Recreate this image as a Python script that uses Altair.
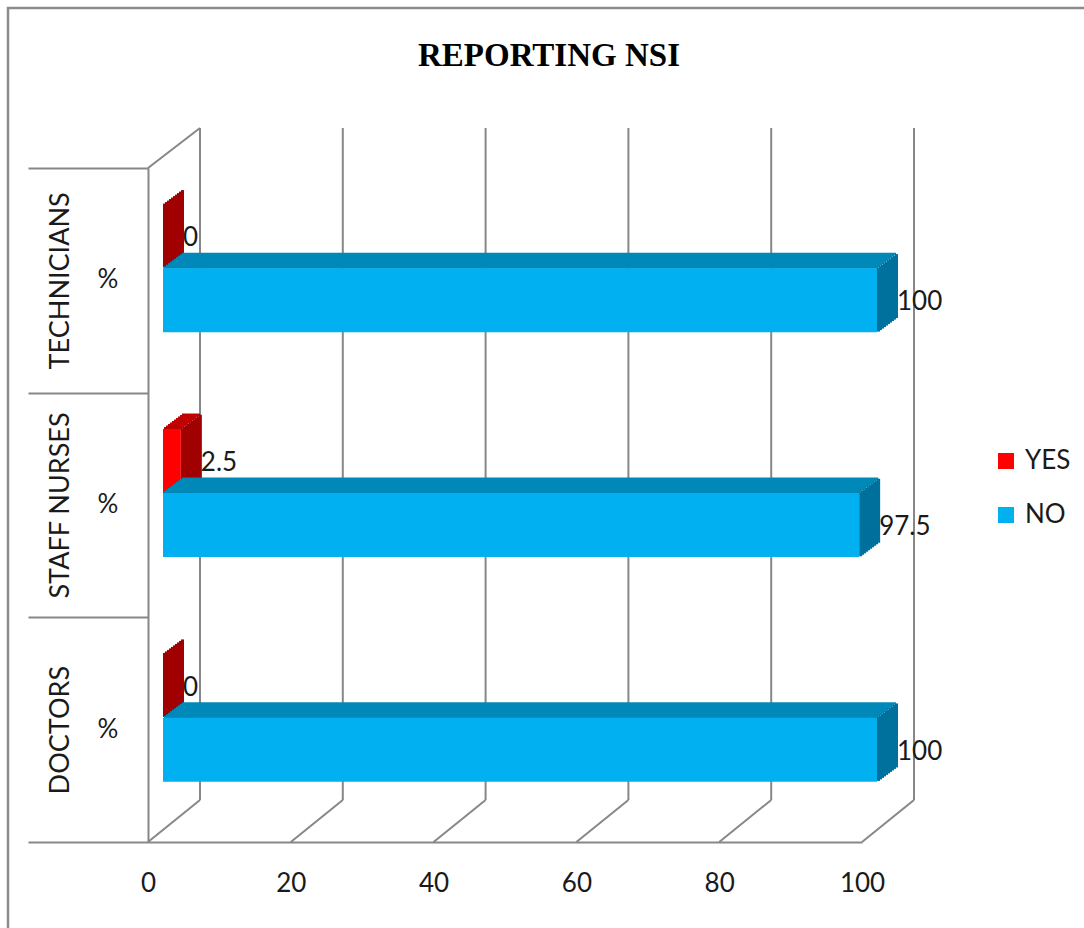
import altair as alt
import pandas as pd

# ---- data ----
categories = ["TECHNICIANS", "STAFF NURSES", "DOCTORS"]
series = ["YES", "NO"]
yes_values = [0, 2.5, 0]
no_values = [100, 97.5, 100]
tick_values = [0, 20, 40, 60, 80, 100]

rows = []
for c, y, n in zip(categories, yes_values, no_values):
    rows.append({"cat": c, "series": "YES", "value": y, "label": f"{y:g}"})
    rows.append({"cat": c, "series": "NO", "value": n, "label": f"{n:g}"})
df = pd.DataFrame(rows)
ticks_df = pd.DataFrame({"tick": tick_values})

W, H = 714, 674
GRAY = "#878787"
FONT = "Lato"
TXT = "#1a1a1a"
FS = 26

XSCALE = alt.Scale(domain=[0, 100], nice=False, zero=True)
XAXIS = alt.Axis(values=tick_values, grid=False, ticks=False, title=None,
                 domainColor=GRAY, domainWidth=2, labelFontSize=FS,
                 labelFont=FONT, labelColor=TXT, labelPadding=28,
                 labelFlush=False)
X = alt.X("value:Q", scale=XSCALE, axis=XAXIS)
XT = alt.X("tick:Q", scale=XSCALE, axis=XAXIS)
Y = alt.Y(
    "cat:N", sort=categories,
    scale=alt.Scale(domain=categories, paddingInner=0, paddingOuter=0),
    axis=alt.Axis(title=None, labelAngle=-90, labelAlign="center",
                  labelBaseline="middle", labelPadding=-32, labelLimit=400,
                  tickBand="extent", tickSize=120, tickColor=GRAY, tickWidth=2,
                  domainColor=GRAY, domainWidth=2, labelFontSize=27,
                  labelFont=FONT, labelColor=TXT),
)

# frame around the whole picture
frame = alt.Chart(alt.Data(values=[{}])).mark_rect(
    fillOpacity=0, stroke="#8c8c8c", strokeWidth=2.5
).encode(x=alt.value(-140), x2=alt.value(1084 - 148 + 20),
         y=alt.value(-160), y2=alt.value(928 - 168 + 20))

# back wall gridlines
grid = alt.Chart(ticks_df).mark_rule(color=GRAY, strokeWidth=2, xOffset=52).encode(
    x=XT, y=alt.value(-40), y2=alt.value(H - 42),
)
# floor diagonals
floor = alt.Chart(ticks_df).mark_rule(color=GRAY, strokeWidth=2, x2Offset=52).encode(
    x=XT, x2="tick:Q", y=alt.value(H), y2=alt.value(H - 42),
)
# left wall top edge
wall_top = alt.Chart(ticks_df).transform_filter(alt.datum.tick == 0).mark_rule(
    color=GRAY, strokeWidth=2, x2Offset=52
).encode(x=XT, x2="tick:Q", y=alt.value(0), y2=alt.value(-40))

color_enc = alt.Color(
    "series:N",
    scale=alt.Scale(domain=series, range=["#FF0000", "#00B0F0"]),
    legend=alt.Legend(title=None, orient="none", legendX=845, legendY=280,
                      symbolType="square", symbolSize=256, symbolStrokeWidth=0,
                      labelFontSize=FS, labelFont=FONT, labelColor=TXT,
                      rowPadding=28, padding=0, labelOffset=6),
)

NSTRIP = 10
DEPTH_X, DEPTH_Y = 20, 15
FRONT_H = 64


def faces(name, yoff, top_color, side_color):
    base = alt.Chart(df).transform_filter(alt.datum.series == name)
    layers = []
    # top face: parallelogram built from thin horizontal strips
    sh = DEPTH_Y / NSTRIP
    for k in range(NSTRIP):
        dx = 15 + DEPTH_X * (k + 0.5) / NSTRIP
        layers.append(base.mark_bar(
            height=sh + 1, yOffset=yoff - FRONT_H / 2 - sh * (k + 0.5),
            xOffset=dx, x2Offset=dx, color=top_color
        ).encode(x=X, x2=alt.X2(datum=0), y=Y))
    # side face: parallelogram built from thin vertical strips
    sw = DEPTH_X / NSTRIP
    for j in range(NSTRIP):
        layers.append(base.mark_bar(
            height=FRONT_H, yOffset=yoff - DEPTH_Y * (j + 0.5) / NSTRIP,
            xOffset=15 + sw * (j + 1) + 1, x2Offset=15 + sw * j, color=side_color
        ).encode(x=X, x2=alt.X2("value:Q"), y=Y))
    front = base.mark_bar(height=FRONT_H, yOffset=yoff, xOffset=15, x2Offset=15).encode(
        x=X, x2=alt.X2(datum=0), y=Y, color=color_enc)
    lab = base.mark_text(align="left", baseline="middle", xOffset=35, yOffset=yoff + 2,
                         fontSize=FS, font=FONT, color=TXT).encode(
        x=X, y=Y, text="label:N")
    return layers + [front, lab]


yes_layers = faces("YES", -44, "#C00000", "#A00000")
no_layers = faces("NO", 20, "#0088B8", "#00709C")

pct = alt.Chart(df).transform_filter(alt.datum.series == "YES").mark_text(
    fontSize=FS, font=FONT, color=TXT, align="center", baseline="middle"
).encode(x=alt.value(-40), y=Y, text=alt.value("%"))

chart = alt.layer(
    frame, grid, floor, wall_top, *yes_layers, *no_layers, pct
).properties(
    width=W, height=H,
    background="white",
    title=alt.TitleParams("REPORTING NSI", font="Liberation Serif", fontSize=33,
                          fontWeight="bold", anchor="middle", dx=44, offset=-66,
                          color="#000000"),
    autosize=alt.AutoSizeParams(type="none"),
    padding={"left": 148, "top": 168, "right": 1084 - 148 - W, "bottom": 928 - 168 - H},
).configure_view(strokeWidth=0)

chart.save("out.html", embed_options={"renderer": "svg", "actions": False})
